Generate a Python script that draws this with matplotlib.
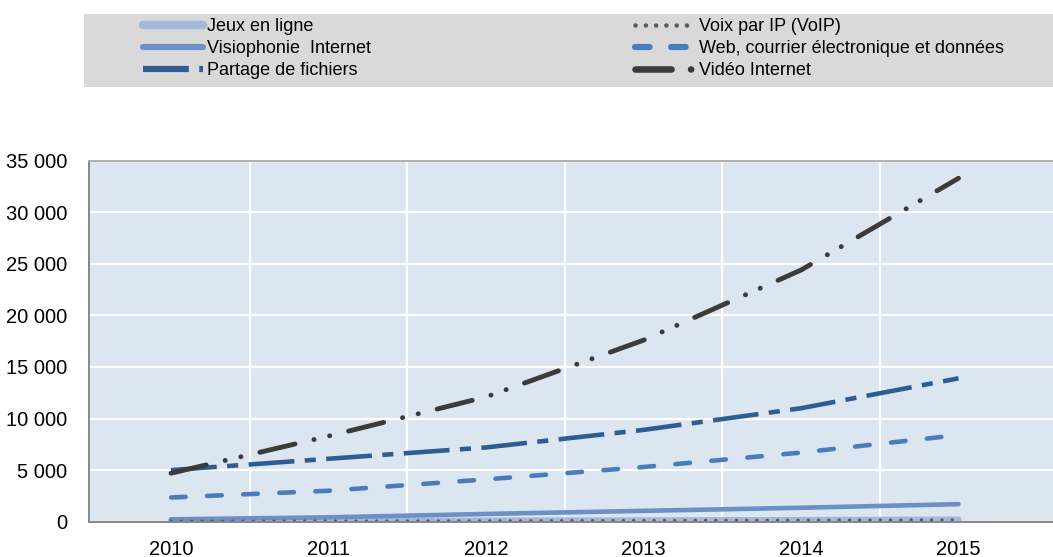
import matplotlib
matplotlib.use("Agg")
import matplotlib.pyplot as plt
from matplotlib.lines import Line2D
from matplotlib.patches import Rectangle
from matplotlib.ticker import FuncFormatter

plt.rcParams['font.family'] = ['Liberation Sans Narrow', 'Liberation Sans', 'DejaVu Sans']
plt.rcParams['lines.scale_dashes'] = False

# data (petaoctets per month)
years = ['2010', '2011', '2012', '2013', '2014', '2015']
jeux = [60, 80, 100, 130, 160, 200]
visio = [230, 420, 750, 1050, 1350, 1700]
partage = [5000, 6100, 7200, 8900, 11000, 13900]
voip = [40, 60, 80, 110, 140, 170]
web = [2350, 3000, 4100, 5300, 6700, 8400]
video = [4700, 8300, 12100, 17600, 24400, 33300]
y_ticks = [0, 5000, 10000, 15000, 20000, 25000, 30000, 35000]

# style per series: (label, values, colour, lw, dashes, capstyle)
styles = [
    ('Jeux en ligne', jeux, '#a3b8dc', 4.5, None, 'round'),
    ('Visiophonie  Internet', visio, '#6c8fc6', 3.3, None, 'round'),
    ('Partage de fichiers', partage, '#2f5d93', 3.3, (0, (33, 7.5, 8, 7.5)), 'butt'),
    ('Voix par IP (VoIP)', voip, '#595959', 2.4, (0, (0.1, 7.3)), 'round'),
    ('Web, courrier électronique et données', web, '#4a7cbb', 3.3, (0, (10.5, 15.5)), 'round'),
    ('Vidéo Internet', video, '#3b3b3b', 3.5, (0, (26, 14, 0.1, 11.5, 0.1, 14)), 'round'),
]

fig = plt.figure(figsize=(10.53, 5.57), dpi=100)
ax = fig.add_axes([0.0848, 0.0634, 0.9152, 0.648])
ax.set_facecolor('#dce6f1')

x = list(range(len(years)))
handles = {}
for label, vals, col, lw, dashes, cap in styles:
    kw = dict(color=col, lw=lw, solid_capstyle=cap, dash_capstyle=cap)
    if dashes is not None:
        kw['linestyle'] = dashes
    ax.plot(x, vals, **kw)
    hk = dict(kw)
    hk['lw'] = lw * 1.35
    handles[label] = Line2D([], [], **hk)

ax.set_xlim(-0.519, 5.60)
ax.set_ylim(0, 35000)
ax.set_xticks(x)
ax.set_xticklabels(years)
ax.set_xticks([i + 0.5 for i in x[:-1]], minor=True)
ax.set_yticks(y_ticks)
ax.yaxis.set_major_formatter(FuncFormatter(lambda v, p: f"{int(v):,}".replace(",", " ")))
ax.tick_params(axis='both', which='both', length=0, labelsize=14.5, colors='black')
ax.tick_params(axis='y', pad=16)
ax.tick_params(axis='x', pad=13)

ax.grid(True, axis='y', which='major', color='white', lw=1.6)
ax.grid(True, axis='x', which='minor', color='white', lw=1.6)
ax.set_axisbelow(True)
for side in ['left', 'bottom']:
    ax.spines[side].set_color('#878787')
    ax.spines[side].set_linewidth(1.4)
ax.spines['top'].set_color('#b0b0b0')
ax.spines['top'].set_linewidth(1.4)
ax.spines['right'].set_visible(False)

# grey legend band
fig.patches.append(Rectangle((0.0798, 0.8438), 0.93, 0.131, transform=fig.transFigure,
                             facecolor='#d9d9d9', edgecolor='none', zorder=0))

leg_kw = dict(frameon=False, fontsize=13, handlelength=3.3, handletextpad=0.25,
              labelspacing=0.29, borderpad=0, borderaxespad=0, loc='upper left')
left_labels = ['Jeux en ligne', 'Visiophonie  Internet', 'Partage de fichiers']
right_labels = ['Voix par IP (VoIP)', 'Web, courrier électronique et données', 'Vidéo Internet']
fig.legend([handles[l] for l in left_labels], left_labels,
           bbox_to_anchor=(0.136, 0.968), **leg_kw)
fig.legend([handles[l] for l in right_labels], right_labels,
           bbox_to_anchor=(0.603, 0.968), **leg_kw)

fig.savefig('out.png', dpi=100)
